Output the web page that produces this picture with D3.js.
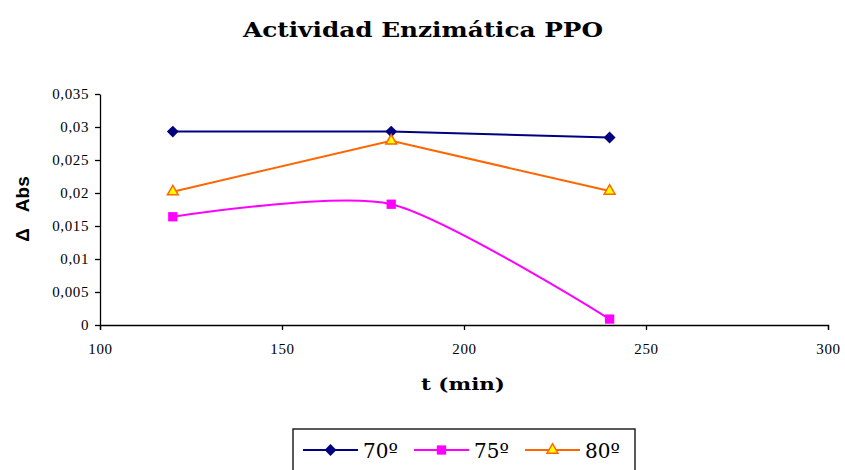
<!DOCTYPE html>
<meta charset="utf-8">
<html>
<head>
  <script src="https://d3js.org/d3.v7.min.js"></script>
  <style>
    body { margin: 0; background: #fff; }
    .tick text { font-family: "Liberation Serif", serif; font-size: 15px; letter-spacing: 0.6px; fill: #000; }
    .domain, .tick line { stroke: #000; stroke-width: 1.3px; }
  </style>
</head>
<body>
  <div id="viz"></div>
  <script>
    // data
    var times = [120, 180, 240];
    var series70 = [0.0293, 0.0293, 0.0284];
    var series75 = [0.0164, 0.0183, 0.0009];
    var series80 = [0.0202, 0.0279, 0.0203];
    var seriesNames = ["70º", "75º", "80º"];
    var xTicks = [100, 150, 200, 250, 300];
    var yTicks = [0, 0.005, 0.01, 0.015, 0.02, 0.025, 0.03, 0.035];

    var config = { width: 845, height: 470 };
    var plot = { left: 100, right: 828, top: 94, bottom: 325 };

    var svg = d3.select("#viz").append("svg")
      .attr("width", config.width)
      .attr("height", config.height);

    var x = d3.scaleLinear().domain([100, 300]).range([plot.left, plot.right]);
    var y = d3.scaleLinear().domain([0, 0.035]).range([plot.bottom, plot.top]);

    var fmt = function(d) { return String(d).replace(".", ","); };

    // axes
    svg.append("g")
      .attr("transform", "translate(0," + plot.bottom + ")")
      .call(d3.axisBottom(x).tickValues(xTicks).tickSize(5).tickSizeOuter(5).tickPadding(13).tickFormat(d3.format("d")));

    svg.append("g")
      .attr("transform", "translate(" + plot.left + ",0)")
      .call(d3.axisLeft(y).tickValues(yTicks).tickSize(5).tickSizeOuter(0).tickPadding(6).tickFormat(fmt));

    // series config
    var series = [
      { name: seriesNames[0], values: series70, color: "#000080", fill: "#000080", shape: d3.symbolDiamond2, size: 90, curve: d3.curveLinear },
      { name: seriesNames[1], values: series75, color: "#FF00FF", fill: "#FF00FF", shape: d3.symbolSquare2, size: 110, curve: d3.curveCardinal.tension(0.25) },
      { name: seriesNames[2], values: series80, color: "#FF6600", fill: "#FFFF00", shape: d3.symbolTriangle2, size: 85, curve: d3.curveLinear }
    ];

    series.forEach(function(s) {
      var pts = times.map(function(t, i) { return [t, s.values[i]]; });
      var line = d3.line()
        .x(function(d) { return x(d[0]); })
        .y(function(d) { return y(d[1]); })
        .curve(s.curve);

      svg.append("path")
        .attr("d", line(pts))
        .attr("fill", "none")
        .attr("stroke", s.color)
        .attr("stroke-width", 2);

      svg.selectAll(null)
        .data(pts)
        .enter().append("path")
        .attr("d", d3.symbol().type(s.shape).size(s.size))
        .attr("transform", function(d) { return "translate(" + x(d[0]) + "," + y(d[1]) + ")"; })
        .attr("fill", s.fill)
        .attr("stroke", s.color)
        .attr("stroke-width", s.shape === d3.symbolTriangle2 ? 1.5 : 0);
    });

    // titles
    svg.append("text")
      .attr("x", 243).attr("y", 37)
      .attr("textLength", 360).attr("lengthAdjust", "spacingAndGlyphs")
      .attr("font-family", "DejaVu Serif").attr("font-weight", "bold").attr("font-size", 20)
      .text("Actividad Enzimática PPO");

    svg.append("text")
      .attr("x", 421).attr("y", 390)
      .attr("textLength", 84).attr("lengthAdjust", "spacingAndGlyphs")
      .attr("font-family", "DejaVu Serif").attr("font-weight", "bold").attr("font-size", 17)
      .text("t (min)");

    svg.append("text")
      .attr("transform", "translate(29,209) rotate(-90)")
      .attr("text-anchor", "middle")
      .attr("font-family", "Liberation Sans").attr("font-weight", "bold").attr("font-size", 19)
      .attr("xml:space", "preserve")
      .text("Δ   Abs");

    // legend
    var legend = svg.append("g").attr("transform", "translate(293,429)");
    legend.append("rect")
      .attr("width", 342).attr("height", 50)
      .attr("fill", "#fff").attr("stroke", "#000").attr("stroke-width", 1.3);

    var itemX = [10, 121, 232];
    series.forEach(function(s, i) {
      var g = legend.append("g").attr("transform", "translate(" + itemX[i] + ",21)");
      g.append("line").attr("x1", 0).attr("x2", 55).attr("stroke", s.color).attr("stroke-width", 2);
      g.append("path")
        .attr("d", d3.symbol().type(s.shape).size(s.size))
        .attr("transform", "translate(27.5,0)")
        .attr("fill", s.fill)
        .attr("stroke", s.color)
        .attr("stroke-width", s.shape === d3.symbolTriangle2 ? 1.5 : 0);
      g.append("text")
        .attr("x", 60).attr("y", 8)
        .attr("font-family", "DejaVu Serif").attr("font-size", 20)
        .text(s.name);
    });
  </script>
</body>
</html>
